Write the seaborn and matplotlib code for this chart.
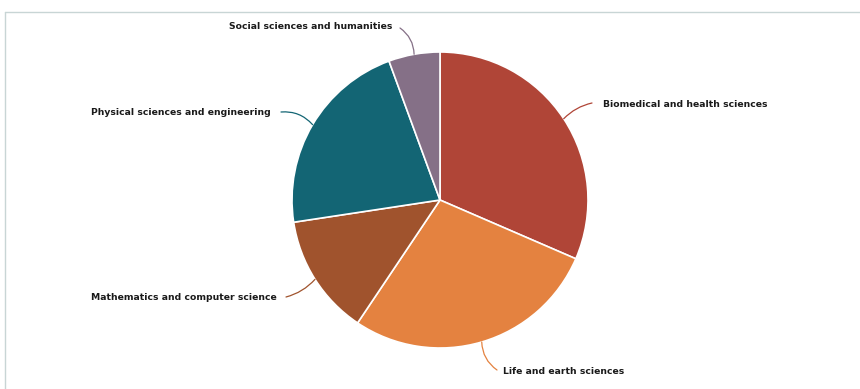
import matplotlib
matplotlib.use("Agg")
import matplotlib.pyplot as plt
import seaborn as sns
import numpy as np
from matplotlib.lines import Line2D

categories = ["Biomedical and health sciences", "Life and earth sciences",
              "Mathematics and computer science", "Physical sciences and engineering",
              "Social sciences and humanities"]
values = [31.5, 27.9, 13.2, 21.8, 5.6]
colors = ["#b04537", "#e48240", "#a0532d", "#136574", "#857087"]

sns.set_theme(style="white")
plt.rcParams['font.family'] = ['DejaVu Sans']

W, H = 860, 389
cx, cy, R = 440, 200, 148
fig = plt.figure(figsize=(W / 100, H / 100), dpi=100)
ax = fig.add_axes([0, 0, 1, 1])
wedges, _ = ax.pie(values, colors=colors, startangle=90, counterclock=False,
                   wedgeprops=dict(edgecolor="white", linewidth=1.2))
ax.set_xlim(-cx / R, (W - cx) / R)
ax.set_ylim(-(H - cy) / R, cy / R)
ax.set_aspect("equal")
ax.axis("off")

# label anchor (px), alignment, connector start (px), curvature
label_pos = [(603, 105, "left", (592, 103), 0.15),
             (503, 372, "left", (497, 370), -0.25),
             (277, 297, "right", (286, 297), 0.15),
             (271, 113, "right", (281, 112), -0.25),
             (392, 27, "right", (400, 28), -0.25)]

def to_data(px, py):
    return (px - cx) / R, (cy - py) / R

for w, cat, col, (lx, ly, ha, (sx, sy), rad) in zip(wedges, categories, colors, label_pos):
    mid = np.deg2rad((w.theta1 + w.theta2) / 2)
    px, py = np.cos(mid), np.sin(mid)
    ax.text(*to_data(lx, ly), cat, ha=ha, va="center", fontsize=6.65,
            fontweight="bold", color="#1a1a1a")
    ax.annotate("", xy=(px, py), xytext=to_data(sx, sy),
                arrowprops=dict(arrowstyle="-", color=col, lw=0.9,
                                shrinkA=0, shrinkB=0,
                                connectionstyle=f"arc3,rad={rad}"))

# frame lines
ytop = 1 - 12 / H
xl = 5 / W
fig.add_artist(Line2D([xl, 1], [ytop, ytop], transform=fig.transFigure,
                      color="#c8d5d5", lw=1))
fig.add_artist(Line2D([xl, xl], [0, ytop], transform=fig.transFigure,
                      color="#c8d5d5", lw=1))

fig.savefig("out.png", dpi=100)
